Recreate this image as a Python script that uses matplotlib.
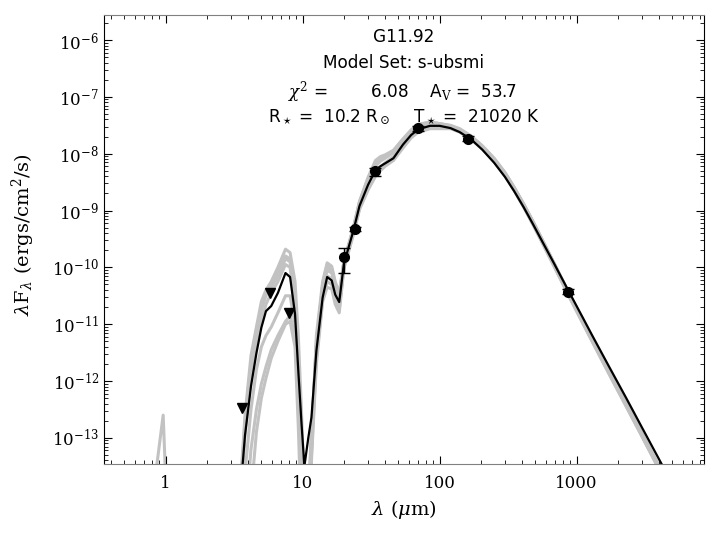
import numpy as np
import matplotlib
matplotlib.use("Agg")
import matplotlib.pyplot as plt
from matplotlib.ticker import FuncFormatter, NullFormatter

plt.rcParams['font.family'] = 'DejaVu Serif'
plt.rcParams['mathtext.fontset'] = 'dejavuserif'

# wavelength grid of the plotted model SEDs (micron)
wav = [0.85, 0.96, 1.05, 3.3, 3.5, 3.8, 4.2, 4.6, 5.0, 5.4, 5.9, 6.6, 7.5, 8.1, 8.8, 9.3,
       9.8, 10.3, 11.0, 11.6, 12.6, 14.0, 15.1, 16.3, 17.3, 18.5,
       20, 23.5, 26, 30, 34, 37, 40, 46, 54, 62, 70, 85, 100, 120, 140, 170, 205, 250,
       300, 350, 410, 480, 580, 680, 870, 1100, 1300, 1700, 2300, 3000, 4000, 8000]

# best fit model, log10(lambda F_lambda)
best_fit = [-15, -15, -15, -15, -14.0, -12.95, -12.09, -11.51, -11.06, -10.77, -10.68, -10.45,
            -10.1, -10.17, -10.82, -11.82, -12.72, -13.5, -13.0, -12.64, -11.47, -10.53, -10.17,
            -10.23, -10.48, -10.61,
            -9.94, -9.35, -8.92, -8.55, -8.29, -8.22, -8.17, -8.08, -7.84, -7.67, -7.57, -7.51,
            -7.51, -7.55, -7.62, -7.75, -7.93, -8.16, -8.41, -8.66, -8.94, -9.24, -9.61, -9.92,
            -10.41, -10.87, -11.2, -11.72, -12.3, -12.82, -13.38, -14.73]

# other good fits (grey)
fit_2 = [-15, -15, -15, -15, -13.9, -12.6, -11.55, -11.05, -10.6, -10.4, -10.25, -10.0,
         -9.68, -9.74, -10.25, -11.2, -12.5, -14.0, -14.5, -13.2, -11.2, -10.25, -9.92, -9.98,
         -10.25, -10.45,
         -9.9, -9.3, -8.85, -8.45, -8.18, -8.1, -8.05, -7.96, -7.76, -7.6, -7.5, -7.46,
         -7.48, -7.51, -7.57, -7.70, -7.87, -8.09, -8.34, -8.60, -8.89, -9.20, -9.59, -9.92,
         -10.44, -10.92, -11.26, -11.80, -12.40, -12.93, -13.51, -14.91]
fit_3 = [-13.6, -12.6, -15, -15, -14.2, -12.85, -11.8, -11.15, -10.75, -10.5, -10.3, -10.08,
         -9.8, -9.85, -10.5, -11.6, -12.9, -14.2, -14.3, -13.0, -11.3, -10.35, -10.0, -10.05,
         -10.3, -10.5,
         -9.92, -9.32, -8.87, -8.48, -8.22, -8.13, -8.08, -7.98, -7.78, -7.62, -7.52, -7.47,
         -7.49, -7.52, -7.58, -7.71, -7.88, -8.10, -8.35, -8.61, -8.90, -9.21, -9.60, -9.93,
         -10.45, -10.93, -11.27, -11.81, -12.41, -12.94, -13.52, -14.92]
fit_4 = [-15, -15, -15, -15, -15, -14.5, -13.2, -12.5, -12.05, -11.75, -11.45, -11.2,
         -10.95, -10.85, -11.2, -12.4, -14.0, -15, -14.5, -13.3, -11.6, -10.55, -10.25, -10.3,
         -10.6, -10.75,
         -10.0, -9.4, -8.97, -8.62, -8.38, -8.28, -8.2, -8.1, -7.88, -7.7, -7.6, -7.54,
         -7.54, -7.55, -7.61, -7.74, -7.91, -8.13, -8.38, -8.64, -8.93, -9.24, -9.63, -9.96,
         -10.48, -10.96, -11.30, -11.84, -12.44, -12.97, -13.55, -14.95]
fit_5 = [-15, -15, -15, -15, -15, -15, -14.0, -12.9, -12.3, -11.95, -11.6, -11.3,
         -11.0, -10.95, -11.4, -12.8, -14.5, -15, -14.6, -13.4, -11.7, -10.6, -10.35, -10.38,
         -10.65, -10.8,
         -10.02, -9.42, -8.98, -8.64, -8.4, -8.3, -8.22, -8.12, -7.9, -7.72, -7.62, -7.56,
         -7.56, -7.56, -7.62, -7.75, -7.92, -8.14, -8.39, -8.65, -8.94, -9.25, -9.64, -9.97,
         -10.49, -10.97, -11.31, -11.85, -12.45, -12.98, -13.56, -14.96]
fit_6 = [-15, -15, -15, -15, -14.3, -12.9, -11.9, -11.3, -10.95, -10.65, -10.45, -10.25,
         -9.95, -10.0, -10.7, -11.9, -13.3, -14.5, -14.0, -12.9, -11.35, -10.4, -10.05, -10.1,
         -10.35, -10.55,
         -9.93, -9.33, -8.86, -8.44, -8.15, -8.08, -8.04, -7.95, -7.75, -7.59, -7.49, -7.44,
         -7.47, -7.50, -7.56, -7.69, -7.86, -8.08, -8.33, -8.59, -8.88, -9.19, -9.58, -9.91,
         -10.43, -10.91, -11.25, -11.79, -12.39, -12.92, -13.50, -14.90]
fit_7 = [-15, -15, -15, -15, -15, -13.6, -12.5, -11.8, -11.4, -11.2, -11.05, -10.8,
         -10.5, -10.5, -11.0, -12.2, -13.8, -15, -14.4, -13.1, -11.5, -10.45, -10.15, -10.2,
         -10.5, -10.68,
         -9.97, -9.36, -8.92, -8.57, -8.32, -8.23, -8.16, -8.05, -7.83, -7.66, -7.56, -7.5,
         -7.51, -7.53, -7.59, -7.72, -7.89, -8.11, -8.36, -8.62, -8.91, -9.22, -9.61, -9.94,
         -10.46, -10.94, -11.28, -11.82, -12.42, -12.95, -13.53, -14.93]
fit_8 = [-15, -15, -15, -15, -14.0, -12.7, -11.7, -11.1, -10.7, -10.45, -10.35, -10.15,
         -9.85, -9.9, -10.6, -11.7, -13.0, -14.3, -14.2, -13.0, -11.4, -10.3, -9.95, -10.02,
         -10.3, -10.5,
         -9.9, -9.3, -8.84, -8.42, -8.12, -8.05, -8.02, -7.94, -7.74, -7.58, -7.48, -7.45,
         -7.47, -7.51, -7.57, -7.70, -7.87, -8.09, -8.34, -8.60, -8.89, -9.20, -9.59, -9.92,
         -10.44, -10.92, -11.26, -11.80, -12.40, -12.93, -13.51, -14.91]
grey_fits = [fit_2, fit_3, fit_4, fit_5, fit_6, fit_7, fit_8]

# photometry (ergs/cm^2/s)
phot_wav = [20.0, 24.0, 33.5, 70.0, 160.0, 870.0]
phot_flux = [1.5e-10, 4.8e-10, 4.9e-9, 2.8e-8, 1.85e-8, 3.75e-11]
phot_err = [0.7e-10, 0.4e-10, 0.8e-9, 2.5e-9, 1.8e-9, 4.0e-12]

# upper limits
lim_wav = [3.6, 5.8, 8.0]
lim_flux = [3.4e-13, 3.5e-11, 1.55e-11]

# tick positions
x_ticks = [1, 10, 100, 1000]
y_ticks = [1e-13, 1e-12, 1e-11, 1e-10, 1e-9, 1e-8, 1e-7, 1e-6]

fig = plt.figure(figsize=(7.2, 5.38), dpi=100)
ax = fig.add_axes([0.1444, 0.1375, 0.8334, 0.8346])

for g in grey_fits:
    ax.plot(wav, 10**np.array(g), color='0.76', lw=2.2, zorder=1)
ax.plot(wav, 10**np.array(best_fit), color='black', lw=1.6, zorder=2)

ax.errorbar(phot_wav, phot_flux, yerr=phot_err, fmt='o', color='black', ms=7,
            capsize=4, elinewidth=1, zorder=4)
ax.plot(lim_wav, lim_flux, 'v', color='black', ms=7, zorder=4)

ax.set_xscale('log')
ax.set_yscale('log')
ax.set_xticks(x_ticks)
ax.set_yticks(y_ticks)
ax.set_xlim(0.355, 8500)
ax.set_ylim(10**-13.46, 10**-5.56)

ax.xaxis.set_major_formatter(FuncFormatter(lambda v, p: '%g' % v))
ax.xaxis.set_minor_formatter(NullFormatter())
ax.yaxis.set_minor_formatter(NullFormatter())
ax.tick_params(which='both', direction='in', top=True, right=True, labelsize=12)
ax.tick_params(which='major', length=6)
ax.tick_params(which='minor', length=3)
ax.spines['top'].set_color('0.5')
ax.spines['bottom'].set_color('0.5')
ax.xaxis.set_tick_params(pad=8)

ax.set_xlabel(r'$\lambda$ ($\mu$m)', fontsize=14)
ax.set_ylabel(r'$\lambda$F$_\lambda$ (ergs/cm$^2$/s)', fontsize=14)
ax.yaxis.set_label_coords(-0.112, 0.51)

txt = dict(ha='center', va='center', transform=ax.transAxes, fontsize=12.2, family='DejaVu Sans')
ax.text(0.5, 0.951, 'G11.92', **txt)
ax.text(0.5, 0.893, 'Model Set: s-ubsmi', **txt)
ax.text(0.497, 0.829, r'$\chi^2$ =        6.08    A$_{\rm V}$ =  53.7', **txt)
ax.text(0.5, 0.771, r'R$_\star$ =  10.2 R$_\odot$    T$_\star$ =  21020 K', **txt)

plt.savefig('out.png', dpi=100)
